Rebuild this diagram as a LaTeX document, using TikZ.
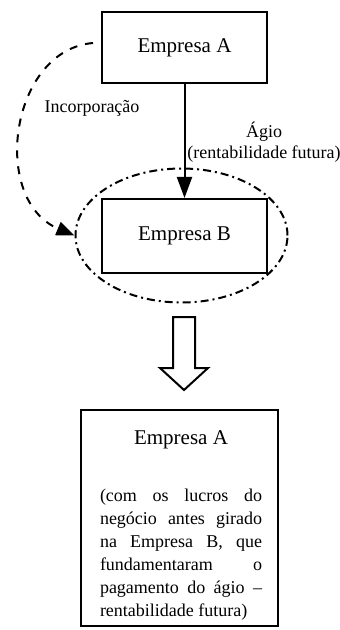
\documentclass[tikz,border=0pt]{standalone}
\usepackage{fontspec}
\setmainfont{Liberation Serif}
\usetikzlibrary{arrows.meta,shapes.geometric}
\begin{document}
\begin{tikzpicture}[x=0.5pt,y=-0.5pt,
  box/.style={draw, line width=1pt, inner sep=0pt, font=\fontsize{10.5}{12}\selectfont},
  lbl/.style={inner sep=0pt, font=\fontsize{9}{10.5}\selectfont},
  dashconn/.style={line width=1pt, dash pattern=on 4pt off 4pt, -{Triangle[length=9pt,width=7pt]}},
  solidconn/.style={line width=1pt, -{Triangle[length=10.5pt,width=7.5pt]}},
  group/.style={draw, ellipse, line width=1pt, inner sep=0pt, dash pattern=on 4pt off 2pt on 1pt off 2pt},
  bigarrow/.style={draw, line width=1pt, line join=miter}
]
\useasboundingbox (0,0) rectangle (339,630);

\node[box, minimum width=82.5pt, minimum height=35.5pt] (a) at (184.5,47.5) {Empresa A};
\node[box, minimum width=82.5pt, minimum height=37pt] (b) at (184.5,236) {Empresa B};
\node[group, minimum width=106pt, minimum height=67pt] (ell) at (181.5,235.5) {};

\draw[solidconn] (a.south) -- (b.north);

\coordinate (dstart) at (93,43);
\draw[dashconn] (dstart) .. controls (10,50) and (-10,200) .. (ell.west);

\node[lbl] (inc) at (92,108) {Incorporação};
\node[lbl, align=center] (agio) at (264,142) {Ágio\\(rentabilidade futura)};

\draw[bigarrow] (173,317) -- (195,317) -- (195,368) -- (208,368) -- (184,390) -- (160,368) -- (173,368) -- cycle;

\node[box, minimum width=98.5pt, minimum height=108pt] (c) at (179.5,518) {};
\node[inner sep=0pt, font=\fontsize{10.5}{12}\selectfont] (ctitle) at (181,440) {Empresa A};
\node[inner sep=0pt, align=left, font=\fontsize{9}{11.5}\selectfont] (cbody) at (181,555)
  {\makebox[81pt][s]{(com os lucros do}\\
   \makebox[81pt][s]{negócio antes girado}\\
   \makebox[81pt][s]{na Empresa B, que}\\
   \makebox[81pt][s]{fundamentaram o}\\
   \makebox[81pt][s]{pagamento do ágio –}\\
   rentabilidade futura)};
\end{tikzpicture}
\end{document}
